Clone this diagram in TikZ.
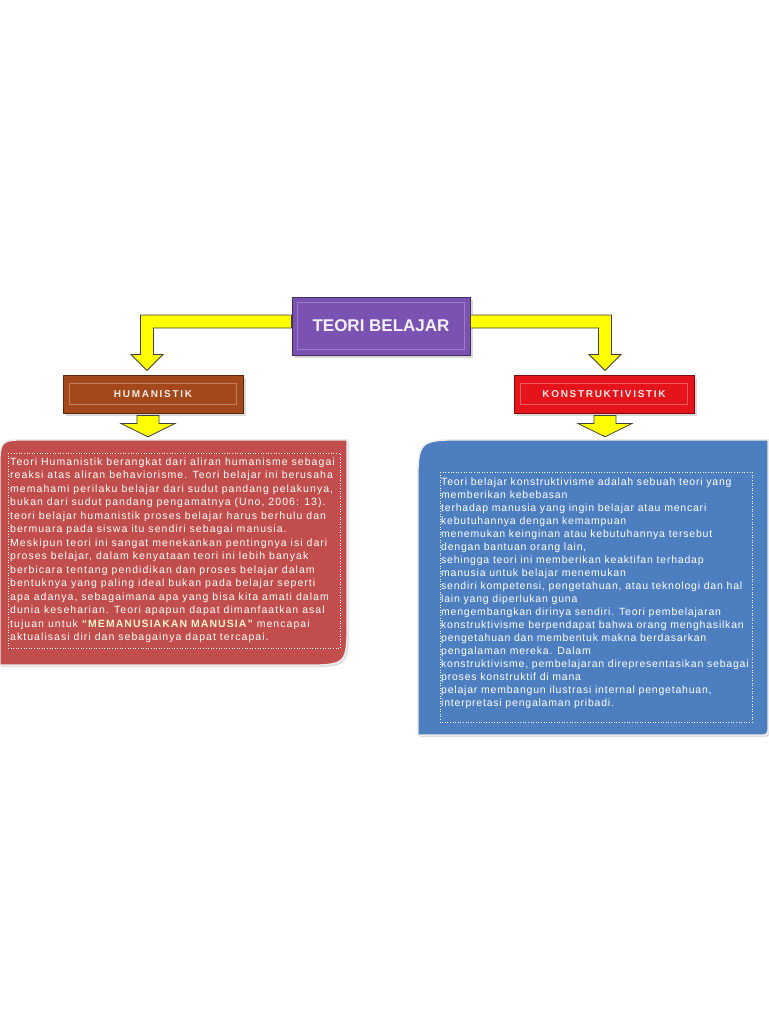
\documentclass[tikz,border=0pt]{standalone}
\usepackage{fontspec}
\setmainfont{Liberation Sans}
\usetikzlibrary{calc,shadows}
\definecolor{ungu}{HTML}{7A52B2}
\definecolor{coklat}{HTML}{A2481A}
\definecolor{merah}{HTML}{E5141B}
\definecolor{merahisi}{HTML}{C14E4C}
\definecolor{biruisi}{HTML}{4D7FC0}
\definecolor{kuning}{HTML}{FFFF00}
\definecolor{krem}{HTML}{FFF1C8}
\begin{document}
\begin{tikzpicture}[x=1pt,y=-1pt,
	judul/.style={fill=ungu,draw=ungu!55!black,line width=1pt,minimum width=178pt,minimum height=58pt,text=white!92!ungu,font=\fontsize{17}{19}\selectfont\bfseries,drop shadow={opacity=0.3}},
	kotakjenis/.style={fill=#1,draw=#1!55!black,line width=1pt,minimum width=180pt,minimum height=38pt,text=white!90!#1,font=\fontsize{10}{12}\selectfont\bfseries\addfontfeatures{LetterSpace=17},drop shadow={opacity=0.3}},
	panah/.style={fill=kuning,draw=black!75,line width=0.8pt,line join=miter},
	isi/.style={draw=white!85!gray,line width=1.5pt,drop shadow={opacity=0.25,shadow xshift=2pt,shadow yshift=-2pt}},
	teks/.style 2 args={anchor=north west,inner sep=0pt,align=left,text=white,font=\fontsize{10.5}{#1}\selectfont\addfontfeatures{LetterSpace=#2}},
	bingkai/.style={draw=white!85,dotted,line width=0.6pt}]
	\useasboundingbox (0,0) rectangle (768,1024);
	\def\panah#1#2#3{% #1 awal, #2 akhir, #3 arah (-1 kiri, 1 kanan)
		\draw[panah] let \p1=(#1), \p2=(#2) in
			(\x1,\y1+11pt) -- ({\x2+#3*6.5pt},\y1+11pt) -- ({\x2+#3*6.5pt},\y2+20pt)
			-- ({\x2+#3*16pt},\y2+20pt) -- (\x2,\y2+4pt) -- ({\x2-#3*16pt},\y2+20pt)
			-- ({\x2-#3*6.5pt},\y2+20pt) -- ({\x2-#3*6.5pt},\y1-2pt) -- (\x1,\y1-2pt) -- cycle;}
	\def\panahkecil#1#2{% panah pendek ke kotak isi
		\draw[panah] let \p1=(#1), \p2=(#2) in
			(\x1-11pt,\y1-2pt) -- (\x1+11pt,\y1-2pt) -- (\x1+11pt,\y1-10pt) -- (\x1+27pt,\y1-10pt)
			-- (\x1,\y2+3pt) -- (\x1-27pt,\y1-10pt) -- (\x1-11pt,\y1-10pt) -- cycle;}
	% Judul dan dua jenis teori
	\node[judul] (judul) at (381,326) {TEORI BELAJAR};
	\draw[ungu!75!white,line width=0.6pt] ($(judul.north west)+(6,6)$) rectangle ($(judul.south east)+(-6,-6)$);
	\node[kotakjenis=coklat] (hum) at (153,394) {HUMANISTIK};
	\draw[coklat!70!white,line width=0.6pt] ($(hum.north west)+(7,9)$) rectangle ($(hum.south east)+(-7,-9)$);
	\node[kotakjenis=merah] (kon) at (604,394) {KONSTRUKTIVISTIK};
	\draw[merah!70!white,line width=0.6pt] ($(kon.north west)+(7,9)$) rectangle ($(kon.south east)+(-7,-9)$);
	% Kotak isi
	\node[minimum width=347pt,minimum height=225pt,inner sep=0pt] (humbody) at (173.5,552.5) {};
	\node[minimum width=350pt,minimum height=295pt,inner sep=0pt] (konbody) at (593,587.5) {};
	\path[isi,fill=merahisi] (humbody.south west) -- ($(humbody.north west)+(0,30)$) .. controls (humbody.north west) .. ($(humbody.north west)+(30,0)$)
		-- (humbody.north east) -- ($(humbody.south east)+(0,-45)$) .. controls (humbody.south east) .. ($(humbody.south east)+(-45,0)$) -- cycle;
	\path[isi,fill=biruisi] (konbody.south west) -- ($(konbody.north west)+(0,48)$) .. controls (konbody.north west) .. ($(konbody.north west)+(48,0)$)
		-- (konbody.north east) -- ($(konbody.south east)+(0,-12)$) .. controls (konbody.south east) .. ($(konbody.south east)+(-12,0)$) -- cycle;
	\draw[bingkai] (8,453) rectangle (340,648);
	\draw[bingkai] (440,472) rectangle (752,722);
	% Panah kuning
	\panah{judul.west}{$(hum.north)+(-6,0)$}{-1}
	\panah{judul.east}{$(kon.north)+(1,0)$}{1}
	\panahkecil{$(hum.south)+(-5,0)$}{humbody.north}
	\panahkecil{$(kon.south)+(1,0)$}{konbody.north}
	% Teks isi
	\node[teks={13.5}{10}] (humteks) at (10,457.5) {Teori Humanistik berangkat dari aliran humanisme sebagai\\
		reaksi atas aliran behaviorisme. Teori belajar ini berusaha\\
		memahami perilaku belajar dari sudut pandang pelakunya,\\
		bukan dari sudut pandang pengamatnya (Uno, 2006: 13).\\
		teori belajar humanistik proses belajar harus berhulu dan\\
		bermuara pada siswa itu sendiri sebagai manusia.\\
		Meskipun teori ini sangat menekankan pentingnya isi dari\\
		proses belajar, dalam kenyataan teori ini lebih banyak\\
		berbicara tentang pendidikan dan proses belajar dalam\\
		bentuknya yang paling ideal bukan pada belajar seperti\\
		apa adanya, sebagaimana apa yang bisa kita amati dalam\\
		dunia keseharian. Teori apapun dapat dimanfaatkan asal\\
		tujuan untuk \textcolor{krem}{\bfseries “MEMANUSIAKAN MANUSIA”} mencapai\\
		aktualisasi diri dan sebagainya dapat tercapai.};
	\node[teks={13}{7.5}] (konteks) at (441,477.5) {Teori belajar konstruktivisme adalah sebuah teori yang\\
		memberikan kebebasan\\
		terhadap manusia yang ingin belajar atau mencari\\
		kebutuhannya dengan kemampuan\\
		menemukan keinginan atau kebutuhannya tersebut\\
		dengan bantuan orang lain,\\
		sehingga teori ini memberikan keaktifan terhadap\\
		manusia untuk belajar menemukan\\
		sendiri kompetensi, pengetahuan, atau teknologi dan hal\\
		lain yang diperlukan guna\\
		mengembangkan dirinya sendiri. Teori pembelajaran\\
		konstruktivisme berpendapat bahwa orang menghasilkan\\
		pengetahuan dan membentuk makna berdasarkan\\
		pengalaman mereka. Dalam\\
		konstruktivisme, pembelajaran direpresentasikan sebagai\\
		proses konstruktif di mana\\
		pelajar membangun ilustrasi internal pengetahuan,\\
		interpretasi pengalaman pribadi.};
\end{tikzpicture}
\end{document}
